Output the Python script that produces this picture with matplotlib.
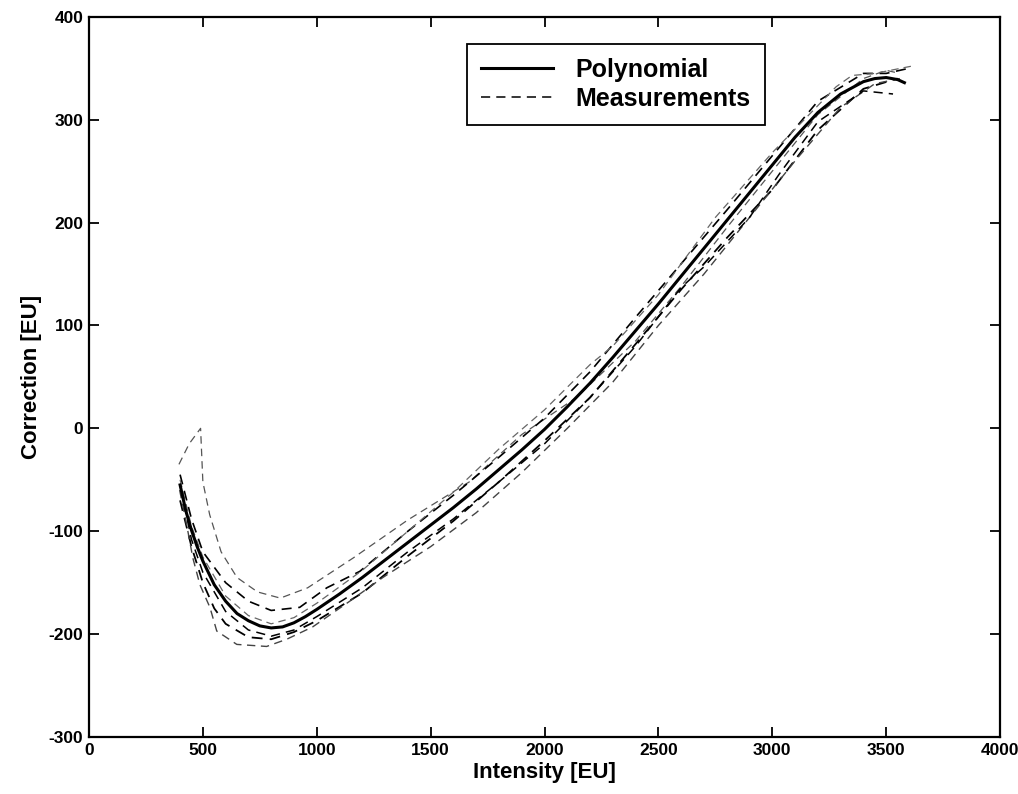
import matplotlib
matplotlib.use('Agg')
import matplotlib.pyplot as plt
from matplotlib.lines import Line2D

plt.rcParams['font.family'] = ['Liberation Sans', 'DejaVu Sans']
plt.rcParams['axes.unicode_minus'] = False

# Fitted correction polynomial
poly_x = [400, 425, 450, 475, 500, 550, 600, 650, 700, 750, 800, 850, 900, 950, 1000,
          1100, 1200, 1300, 1400, 1500, 1600, 1700, 1800, 1900, 2000, 2100, 2200, 2300,
          2400, 2500, 2600, 2700, 2800, 2900, 3000, 3100, 3200, 3300, 3400, 3450, 3500,
          3550, 3580]
poly_y = [-55, -80, -99, -115, -129, -152, -168, -180, -187, -192, -194, -193, -189, -183, -176,
          -161, -145, -128, -111, -94, -77, -59, -40, -21, -1, 21, 44, 69,
          95, 121, 148, 175, 202, 229, 256, 283, 307, 325, 337, 340, 341,
          339, 336]

# Measured correction curves
m1_x = [395, 440, 490, 500, 530, 580, 650, 740, 840, 960, 1160, 1400, 1670, 1900,
        2140, 2400, 2600, 2800, 3000, 3200, 3400, 3500, 3560]
m1_y = [-35, -15, 0, -52, -84, -120, -145, -159, -165, -155, -126, -89, -52, -6,
        30, 85, 138, 195, 250, 305, 340, 348, 345]

m2_x = [400, 450, 500, 600, 700, 800, 925, 1044, 1189, 1400, 1600, 1800, 2000, 2200,
        2400, 2600, 2800, 3000, 3200, 3400, 3500, 3600]
m2_y = [-45, -88, -120, -150, -168, -177, -174, -155, -139, -100, -65, -28, 10, 55,
        108, 160, 212, 265, 318, 345, 345, 350]

m3_x = [400, 450, 500, 550, 600, 700, 800, 900, 1000, 1200, 1400, 1600, 1800, 2000,
        2200, 2400, 2600, 2800, 3000, 3200, 3400, 3550]
m3_y = [-70, -115, -150, -175, -190, -203, -205, -198, -187, -160, -124, -90, -52, -12,
        30, 82, 135, 185, 232, 290, 330, 340]

m4_x = [398, 430, 456, 487, 531, 561, 649, 780, 868, 982, 1145, 1290, 1500, 1700,
        1900, 2100, 2300, 2500, 2700, 2900, 3100, 3300, 3450, 3560]
m4_y = [-60, -95, -126, -152, -174, -197, -210, -212, -205, -193, -168, -145, -115, -82,
        -43, 0, 45, 100, 150, 205, 260, 312, 335, 340]

m5_x = [405, 450, 500, 600, 700, 800, 900, 1000, 1200, 1400, 1600, 1800, 2000, 2200,
        2400, 2600, 2700, 2900, 3030, 3200, 3400, 3530]
m5_y = [-60, -108, -140, -178, -196, -202, -196, -183, -155, -120, -88, -52, -15, 30,
        80, 137, 157, 205, 247, 298, 328, 325]

m6_x = [400, 450, 500, 600, 700, 800, 900, 1000, 1200, 1400, 1600, 1800, 2000, 2200,
        2300, 2500, 2750, 3000, 3280, 3350, 3450, 3610]
m6_y = [-50, -95, -125, -163, -182, -190, -184, -170, -138, -100, -62, -20, 18, 62,
        80, 130, 205, 268, 332, 343, 345, 352]

measurements = [(m1_x, m1_y), (m2_x, m2_y), (m3_x, m3_y),
                (m4_x, m4_y), (m5_x, m5_y), (m6_x, m6_y)]
meas_colors = ['#555555', 'black', 'black', '#444444', 'black', '#666666']
meas_widths = [0.9, 1.2, 1.3, 1.0, 1.1, 0.9]
dash = (0, (6, 4))

fig = plt.figure(figsize=(10.18, 7.94), dpi=100)
ax = fig.add_axes([0.0874, 0.0718, 0.895, 0.907])

for (mx, my), c, lw in zip(measurements, meas_colors, meas_widths):
    ax.plot(mx, my, linestyle=dash, color=c, linewidth=lw)

ax.plot(poly_x, poly_y, color='black', linewidth=2.2)

ax.set_xlim(0, 4000)
ax.set_ylim(-300, 400)
ax.set_xticks(range(0, 4001, 500))
ax.set_yticks(range(-300, 401, 100))
ax.tick_params(direction='in', top=True, right=True, length=7, width=1.3,
               labelsize=12.5, pad=4)
for lab in ax.get_xticklabels() + ax.get_yticklabels():
    lab.set_fontweight('bold')
for sp in ax.spines.values():
    sp.set_linewidth(1.6)

ax.set_xlabel('Intensity [EU]', fontsize=16, fontweight='bold', labelpad=3)
ax.set_ylabel('Correction [EU]', fontsize=16, fontweight='bold', labelpad=5)

handles = [Line2D([], [], color='black', linewidth=2.2),
           Line2D([], [], color='black', linewidth=1.1, linestyle=dash)]
leg = ax.legend(handles, ['Polynomial', 'Measurements'], loc='upper left',
                bbox_to_anchor=(0.415, 0.962), fancybox=False, framealpha=1,
                edgecolor='black', handlelength=2.9, borderpad=0.55,
                labelspacing=0.2, handletextpad=0.9, borderaxespad=0,
                prop={'size': 18, 'weight': 'bold'})
leg.get_frame().set_linewidth(1.3)

fig.savefig('out.png', dpi=100)
